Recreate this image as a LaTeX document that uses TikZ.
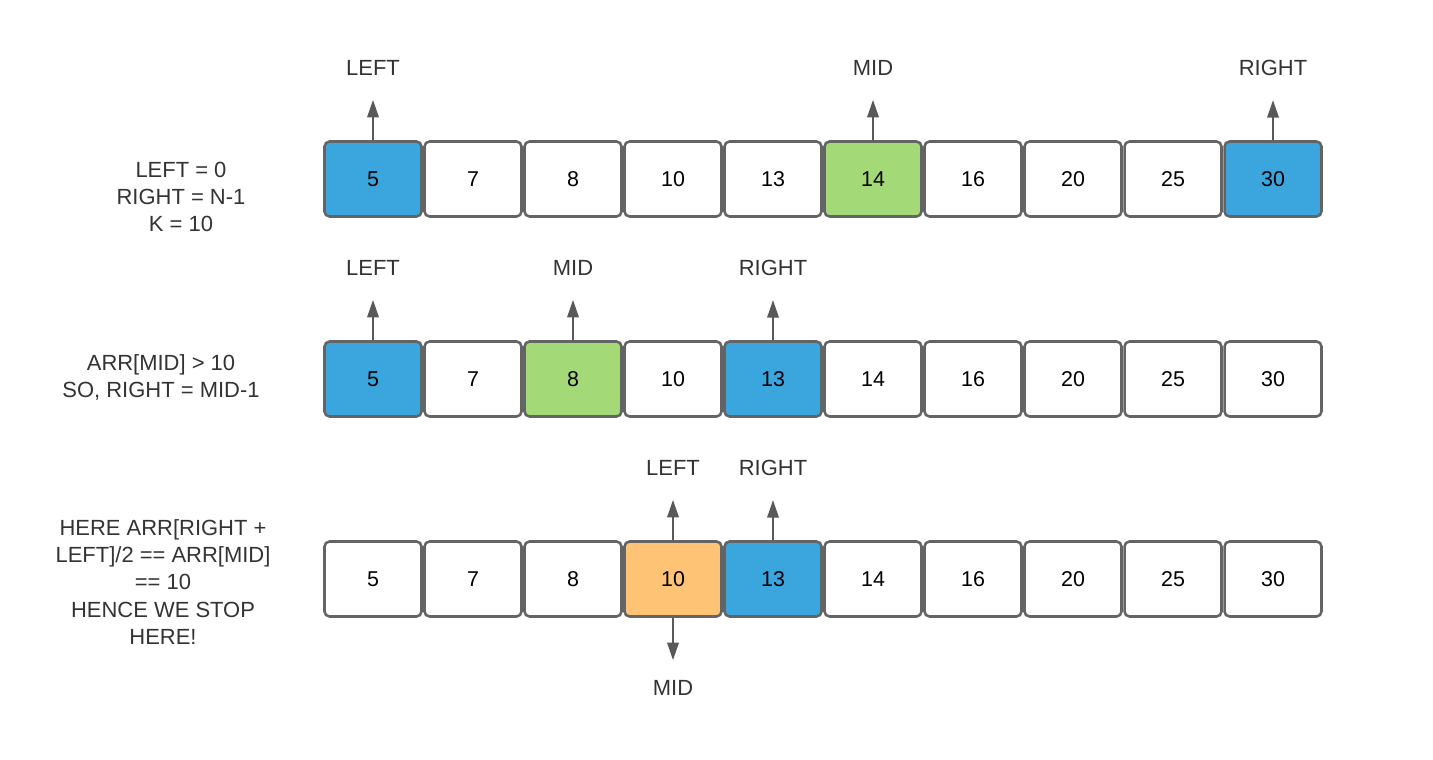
\documentclass[tikz,border=0pt]{standalone}
\usepackage{fontspec}
\setmainfont{Liberation Sans}
\usetikzlibrary{positioning}
\usetikzlibrary{arrows.meta}

\definecolor{cellblue}{HTML}{3AA6DD}
\definecolor{cellgreen}{HTML}{A3D977}
\definecolor{cellorange}{HTML}{FFC375}
\definecolor{cellline}{HTML}{646464}
\definecolor{ptrgray}{HTML}{595959}
\definecolor{txtgray}{HTML}{333333}

\tikzset{
    cell/.style    = {draw=cellline, line width=1.45pt, rounded corners=0.1cm,
                      minimum width=1.94cm, minimum height=1.5cm, inner sep=0pt,
                      font=\fontsize{12.2}{15}\selectfont, text=black},
    tag/.style     = {inner sep=0pt, text=txtgray, font=\fontsize{12.5}{15}\selectfont},
    note/.style    = {inner sep=0pt, text=txtgray, align=center,
                      font=\fontsize{12.5}{15.4}\selectfont},
    ptr/.style     = {draw=ptrgray, line width=1.1pt,
                      -{Triangle[width=0.23cm, length=0.35cm]}},
}

\begin{document}
\begin{tikzpicture}[x=0.02cm, y=-0.02cm]
    \useasboundingbox (0,0) rectangle (1433,760);

    % the three rows of the array
    \foreach \v/\c [count=\i from 0] in {5/cellblue,7/white,8/white,10/white,13/white,
                                         14/cellgreen,16/white,20/white,25/white,30/cellblue}
        \node[cell, fill=\c] (a\i) at (373+100*\i,179) {\v};
    \foreach \v/\c [count=\i from 0] in {5/cellblue,7/white,8/cellgreen,10/white,13/cellblue,
                                         14/white,16/white,20/white,25/white,30/white}
        \node[cell, fill=\c] (b\i) at (373+100*\i,379) {\v};
    \foreach \v/\c [count=\i from 0] in {5/white,7/white,8/white,10/cellorange,13/cellblue,
                                         14/white,16/white,20/white,25/white,30/white}
        \node[cell, fill=\c] (c\i) at (373+100*\i,579) {\v};

    % pointer labels
    \node[tag] (aleft)  at (373,68)  {LEFT};
    \node[tag] (amid)   at (873,68)  {MID};
    \node[tag] (aright) at (1273,68) {RIGHT};
    \node[tag] (bleft)  at (373,268) {LEFT};
    \node[tag] (bmid)   at (573,268) {MID};
    \node[tag] (bright) at (773,268) {RIGHT};
    \node[tag] (cleft)  at (673,468) {LEFT};
    \node[tag] (cright) at (773,468) {RIGHT};
    \node[tag] (cmid)   at (673,688) {MID};

    \draw[ptr, shorten >=0.48cm] (a0.north) -- (aleft.south);
    \draw[ptr, shorten >=0.48cm] (a5.north) -- (amid.south);
    \draw[ptr, shorten >=0.48cm] (a9.north) -- (aright.south);
    \draw[ptr, shorten >=0.48cm] (b0.north) -- (bleft.south);
    \draw[ptr, shorten >=0.48cm] (b2.north) -- (bmid.south);
    \draw[ptr, shorten >=0.48cm] (b4.north) -- (bright.south);
    \draw[ptr, shorten >=0.48cm] (c3.north) -- (cleft.south);
    \draw[ptr, shorten >=0.48cm] (c4.north) -- (cright.south);
    \draw[ptr, shorten >=0.4cm]  (c3.south) -- (cmid.north);

    % notes on the left
    \node[note] (anote) at (181,197) {LEFT = 0\\RIGHT = N-1\\K = 10};
    \node[note] (bnote) at (161,377) {ARR[MID] > 10\\SO, RIGHT = MID-1};
    \node[note] (cnote) at (163,582) {HERE ARR[RIGHT +\\LEFT]/2 == ARR[MID]\\== 10\\HENCE WE STOP\\HERE!};
\end{tikzpicture}
\end{document}
